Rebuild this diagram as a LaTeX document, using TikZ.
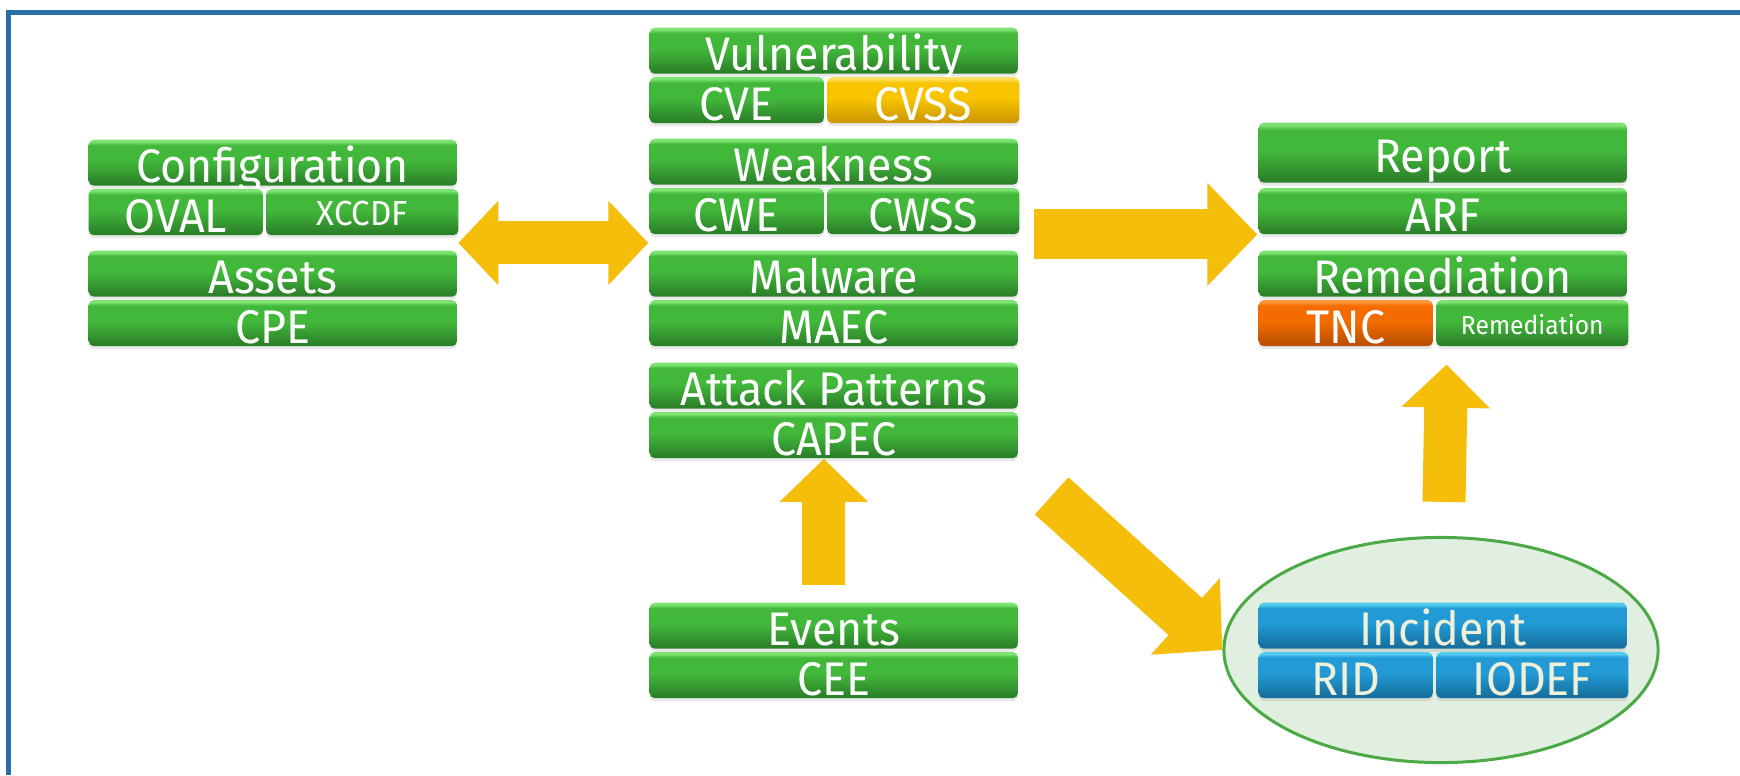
\documentclass[tikz,border=0pt]{standalone}
\usepackage{fontspec}
\setmainfont{Fira Sans}[FakeStretch=0.95]
\usepackage{xcolor}
\usetikzlibrary{arrows.meta, positioning, shapes.geometric, fit, calc, shadows}

\definecolor{marcoazul}{HTML}{2A6EA3}
\definecolor{verdeA}{HTML}{7CE272}
\definecolor{verdeB}{HTML}{42B83B}
\definecolor{verdeC}{HTML}{2C8229}
\definecolor{amarA}{HTML}{FFDF5C}
\definecolor{amarB}{HTML}{F8C400}
\definecolor{amarC}{HTML}{CF9A00}
\definecolor{naranjaA}{HTML}{FF9438}
\definecolor{naranjaB}{HTML}{F46C00}
\definecolor{naranjaC}{HTML}{BC5000}
\definecolor{azulA}{HTML}{52CDF0}
\definecolor{azulB}{HTML}{219AD5}
\definecolor{azulC}{HTML}{17709F}
\definecolor{textoclaro}{HTML}{EEF0DA}
\definecolor{oro}{HTML}{F4BE0A}
\definecolor{elipserelleno}{HTML}{E1EFE1}
\definecolor{elipseborde}{HTML}{4BA946}

% Sombreado con bisel: borde claro arriba, cuerpo y borde oscuro abajo
\newcommand{\nuevobisel}[4]{%
  \pgfdeclareverticalshading{#1}{100bp}{color(0bp)=(#4); color(25bp)=(#4);
    color(28bp)=(#4); color(52bp)=(#3); color(69bp)=(#3); color(73bp)=(#2); color(100bp)=(#2)}}
\nuevobisel{biselverde}{verdeA}{verdeB}{verdeC}
\nuevobisel{biselamarillo}{amarA}{amarB}{amarC}
\nuevobisel{biselnaranja}{naranjaA}{naranjaB}{naranjaC}
\nuevobisel{biselazul}{azulA}{azulB}{azulC}

\begin{document}
\begin{tikzpicture}[
    x=0.01cm, y=-0.01cm,
    % Estilo base de las cajas
    caja/.style={
        rectangle,
        rounded corners=0.05cm,
        minimum width=3.68cm,
        minimum height=0.46cm,
        inner sep=0pt,
        text height=0.40cm,
        text depth=0pt,
        anchor=north west,
        font=\fontsize{13.4}{14}\selectfont,
        text=white,
        shade,
        drop shadow={shadow xshift=0pt, shadow yshift=-0.03cm, opacity=0.18}
    },
    % Colores de las cajas
    verde/.style={caja, shading=biselverde},
    amarilla/.style={caja, shading=biselamarillo},
    naranja/.style={caja, shading=biselnaranja},
    azul/.style={caja, shading=biselazul, text=textoclaro},
    % Cajas partidas en dos
    mitadizq/.style={minimum width=1.74cm},
    mitadder/.style={minimum width=1.92cm},
    chica/.style={font=\fontsize{9.9}{10}\selectfont, text height=0.27cm},
    muychica/.style={font=\fontsize{7.4}{8}\selectfont, text height=0.23cm},
    % Flechas gruesas
    flecha/.style={draw=oro, line width=0.5cm, -{Triangle[length=0.5cm, width=1.0cm]}},
    flechav/.style={draw=oro, line width=0.43cm, -{Triangle[length=0.43cm, width=0.86cm]}},
    flechadoble/.style={draw=oro, line width=0.43cm,
        {Triangle[length=0.4cm, width=0.82cm]}-{Triangle[length=0.4cm, width=0.82cm]}}
]
    \useasboundingbox (0,0) rectangle (1740,775);

    % --- MARCO ---
    \draw[marcoazul, line width=0.05cm] (8.5,775) -- (8.5,12) -- (1740,12);

    % --- ELIPSE (fondo de Incident) ---
    \node[ellipse, draw=elipseborde, fill=elipserelleno, line width=0.03cm,
          minimum width=4.34cm, minimum height=2.25cm, inner sep=0pt] (incgrp) at (1441,650) {};

    % --- COLUMNA IZQUIERDA ---
    \node[verde] (conf) at (88,139) {Configuration};
    \node[verde, mitadizq, below=0.02cm of conf.south west, anchor=north west] (oval) {OVAL};
    \node[verde, mitadder, chica, right=0.02cm of oval] (xccdf) {XCCDF};
    \node[verde] (assets) at (88,250) {Assets};
    \node[verde, below=0.02cm of assets.south west, anchor=north west] (cpe) {CPE};

    % --- COLUMNA CENTRAL ---
    \node[verde] (vuln) at (649,27) {Vulnerability};
    \node[verde, mitadizq, below=0.02cm of vuln.south west, anchor=north west] (cve) {CVE};
    \node[amarilla, mitadder, right=0.02cm of cve] (cvss) {CVSS};
    \node[verde] (weak) at (649,138) {Weakness};
    \node[verde, mitadizq, below=0.02cm of weak.south west, anchor=north west] (cwe) {CWE};
    \node[verde, mitadder, right=0.02cm of cwe] (cwss) {CWSS};
    \node[verde] (malw) at (649,250) {Malware};
    \node[verde, below=0.02cm of malw.south west, anchor=north west] (maec) {MAEC};
    \node[verde] (attack) at (649,362) {Attack Patterns};
    \node[verde, below=0.02cm of attack.south west, anchor=north west] (capec) {CAPEC};
    \node[verde] (events) at (649,602) {Events};
    \node[verde, below=0.02cm of events.south west, anchor=north west] (cee) {CEE};

    % --- COLUMNA DERECHA ---
    \node[verde, minimum height=0.60cm] (report) at (1258,122) {Report};
    \node[verde, below=0.04cm of report.south west, anchor=north west] (arf) {ARF};
    \node[verde] (remed) at (1258,250) {Remediation};
    \node[naranja, mitadizq, below=0.02cm of remed.south west, anchor=north west] (tnc) {TNC};
    \node[verde, mitadder, muychica, right=0.02cm of tnc] (remsub) {Remediation};
    \node[azul] (incid) at (1258,602) {Incident};
    \node[azul, mitadizq, below=0.02cm of incid.south west, anchor=north west] (rid) {RID};
    \node[azul, mitadder, right=0.02cm of rid] (iodef) {IODEF};

    % Grupos para apoyar las flechas
    \node[fit=(conf)(cpe), inner sep=0pt] (grupoizq) {};
    \node[fit=(vuln)(capec), inner sep=0pt] (grupomed) {};
    \node[fit=(report)(tnc)(remsub), inner sep=0pt] (grupoder) {};

    % --- FLECHAS ---
    \draw[flechadoble] (grupoizq.east) -- (grupomed.west);

    \coordinate (derini) at ($(grupoder.west -| grupomed.east)+(15,0)$);
    \draw[flecha] (derini) -- (grupoder.west);

    \coordinate (diagini) at ($(capec.south east)+(33,37)$);
    \draw[flecha] (diagini) -- (incgrp.west);

    \draw[flechav] ($(events.north)+(-10,-17)$) -- ($(capec.south)+(-10,0)$);
    \draw[flechav] ($(incgrp.north)+(3,-34)$) -- ($(grupoder.south)+(3,17)$);

\end{tikzpicture}
\end{document}
